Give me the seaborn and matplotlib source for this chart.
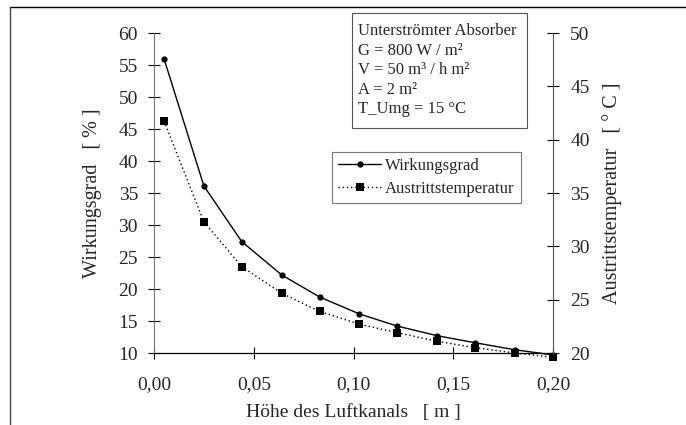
import matplotlib
matplotlib.use("Agg")
import matplotlib.pyplot as plt
import seaborn as sns
import pandas as pd
from matplotlib.lines import Line2D
from matplotlib.patches import Rectangle
from matplotlib.ticker import FuncFormatter

# Data
hoehe = [0.005, 0.025, 0.044, 0.064, 0.083, 0.103, 0.122, 0.142, 0.161, 0.181, 0.200]
wirkungsgrad = [56.0, 36.1, 27.4, 22.2, 18.75, 16.1, 14.2, 12.7, 11.6, 10.5, 9.7]
austrittstemperatur = [41.75, 32.3, 28.1, 25.6, 23.9, 22.7, 21.9, 21.1, 20.5, 20.0, 19.6]

left_ticks = [10, 15, 20, 25, 30, 35, 40, 45, 50, 55, 60]
right_ticks = [20, 25, 30, 35, 40, 45, 50]
x_ticks = [0.00, 0.05, 0.10, 0.15, 0.20]

info_lines = ["Unterströmter Absorber", "G = 800 W / m²", "V = 50 m³ / h m²",
              "A = 2 m²", "T_Umg = 15 °C"]

df = pd.DataFrame({"h": hoehe, "w": wirkungsgrad, "t": austrittstemperatur})

sns.set_theme(style="white")
plt.rcParams["font.family"] = ["Liberation Serif", "DejaVu Serif"]

W, H = 686, 425
AX_L, AX_R, AX_T, AX_B = 154, 553, 33, 353

fig = plt.figure(figsize=(6.86, 4.25), dpi=100)
ax = fig.add_axes([AX_L / W, 1 - AX_B / H, (AX_R - AX_L) / W, (AX_B - AX_T) / H])
ax2 = ax.twinx()


def ax_x(px):
    return (px - AX_L) / (AX_R - AX_L)


def ax_y(py):
    return (AX_B - py) / (AX_B - AX_T)


sns.lineplot(data=df, x="h", y="w", ax=ax, color="black", lw=1.0, marker="o",
             markersize=4.5, markeredgewidth=0, legend=False, clip_on=False)
sns.lineplot(data=df, x="h", y="t", ax=ax2, color="black", lw=1.0, ls=(0, (1, 2)),
             marker="s", markersize=5.5, markeredgewidth=0, legend=False, clip_on=False)

ax.set_xlim(0, 0.20)
ax.set_ylim(10, 60)
ax2.set_ylim(20, 50)
ax.set_xticks(x_ticks)
ax.set_yticks(left_ticks)
ax2.set_yticks(right_ticks)
ax.xaxis.set_major_formatter(FuncFormatter(lambda v, p: f"{v:.2f}".replace(".", ",")))

for a in (ax, ax2):
    for s in a.spines.values():
        s.set_visible(False)
ax.spines["bottom"].set_visible(True)
ax.spines["bottom"].set_color("black")
ax.spines["bottom"].set_linewidth(0.9)
ax.spines["left"].set_visible(True)
ax.spines["left"].set_color("#777777")
ax.spines["left"].set_linewidth(0.8)
ax2.spines["right"].set_visible(True)
ax2.spines["right"].set_color("#555555")
ax2.spines["right"].set_linewidth(0.8)

ax.tick_params(axis="both", direction="inout", length=9, width=0.8, color="black",
               labelsize=14, pad=7, left=True, bottom=True)
ax.tick_params(axis="x", pad=12)
ax2.tick_params(axis="y", direction="inout", length=9, width=0.8, color="black",
                labelsize=14, pad=8, right=True)

ax.set_xlabel("Höhe des Luftkanals   [ m ]", fontsize=14)
ax.xaxis.set_label_coords(0.5, ax_y(404))
ax.set_ylabel("Wirkungsgrad   [ % ]", fontsize=14.5, labelpad=12)
ax2.set_ylabel("Austrittstemperatur   [ ° C ]", fontsize=14.5, labelpad=9)

# Legend
handles = [Line2D([], [], color="black", lw=1.0, marker="o", markersize=4.5, markeredgewidth=0),
           Line2D([], [], color="black", lw=1.0, ls=(0, (1, 2)), marker="s", markersize=5.5,
                  markeredgewidth=0)]
leg = ax.legend(handles, ["Wirkungsgrad", "Austrittstemperatur"],
                loc="upper left", bbox_to_anchor=(ax_x(332), ax_y(152)),
                fontsize=12, frameon=True, fancybox=False, borderpad=0.35,
                borderaxespad=0, handlelength=2.6, handletextpad=0.25, labelspacing=0.45)
leg.get_frame().set_edgecolor("#555555")
leg.get_frame().set_linewidth(0.8)

# Info box
ax.add_patch(Rectangle((ax_x(352), ax_y(128)), ax_x(527) - ax_x(352), ax_y(13) - ax_y(128),
                       transform=ax.transAxes, fc="white", ec="#555555", lw=0.8,
                       clip_on=False, zorder=5))
ax.text(ax_x(358), ax_y(23), "\n".join(info_lines),
        transform=ax.transAxes, fontsize=12, va="top", ha="left", linespacing=1.3,
        zorder=6)

# Chart-area border (top and left)
fig.add_artist(Line2D([10 / W, 1], [1 - 7 / H, 1 - 7 / H], color="black", lw=1.0,
                      transform=fig.transFigure))
fig.add_artist(Line2D([10 / W, 10 / W], [0, 1 - 7 / H], color="#444444", lw=1.0,
                      transform=fig.transFigure))

fig.savefig("out.png", dpi=100)
